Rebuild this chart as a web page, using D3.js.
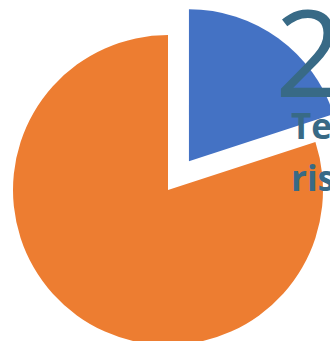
<!DOCTYPE html>
<html>
<head>
<meta charset="utf-8">
<script src="https://cdn.jsdelivr.net/npm/d3@7"></script>
<style>
  html, body { margin: 0; padding: 0; background: #fff; overflow: hidden; }
  #chart { width: 330px; height: 341px; }
</style>
</head>
<body>
<div id="chart"></div>
<script>
// slices
const labels = ["Test risk", "Other"];
const values = [20, 80];
const colors = ["#4472C4", "#ED7D31"];
const bigLabel = "20%";
const subLines = ["Test", "risk"];

const width = 330, height = 341;
const cx = 168, cy = 190, r = 155;
const explode = 35.6;

const svg = d3.select("#chart").append("svg")
  .attr("width", width)
  .attr("height", height);

const pie = d3.pie().sort(null).value(d => d).startAngle(0).endAngle(2 * Math.PI);
const arcs = pie(values);
// exploded slice is drawn a touch smaller, as in the source
const arcFor = i => d3.arc().innerRadius(0).outerRadius(i === 0 ? r - 3 : r);

const g = svg.append("g").attr("transform", `translate(${cx},${cy})`);

g.selectAll("path")
  .data(arcs)
  .join("path")
    .attr("fill", (d, i) => colors[i])
    .attr("d", (d, i) => arcFor(i)(d))
    .attr("transform", (d, i) => {
      if (i !== 0) return null;
      const a = (d.startAngle + d.endAngle) / 2;
      return `translate(${explode * Math.sin(a)},${-explode * Math.cos(a)})`;
    });

// data label (cut off at right edge, like the source)
const lab = svg.append("g").attr("fill", "#386A86").attr("font-family", "'Open Sans', sans-serif");
lab.append("text")
  .attr("x", 275).attr("y", 97)
  .attr("font-size", 120).attr("font-weight", 400)
  .text(bigLabel);
subLines.forEach((t, i) => {
  lab.append("text")
    .attr("x", 291).attr("y", 139 + i * 52)
    .attr("font-size", 35).attr("font-weight", 700)
    .text(t);
});
</script>
</body>
</html>
